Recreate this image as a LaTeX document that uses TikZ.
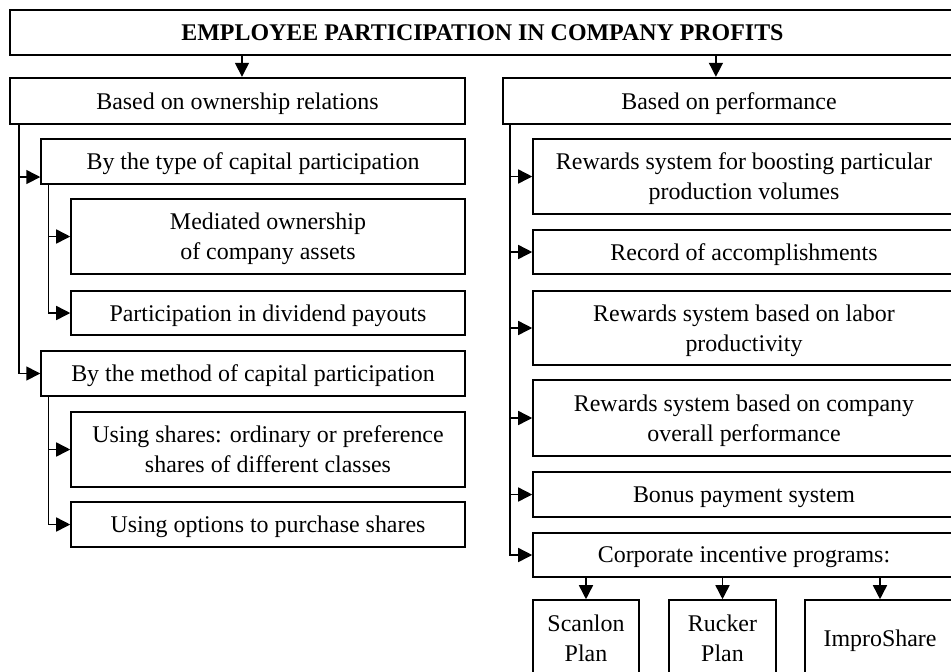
\documentclass[tikz,border=0pt]{standalone}
\usepackage{fontspec}
\setmainfont{Liberation Serif}
\usetikzlibrary{arrows.meta}
\begin{document}
\begin{tikzpicture}[x=0.535pt, y=-0.535pt, every node/.style={font=\fontsize{12.8}{16}\selectfont}]
        \tikzstyle{box} = [draw, line width=0.8pt, rectangle, align=center, inner sep=1pt, text depth=0pt, minimum height=24.1pt]
        \tikzstyle{bigbox} = [box, line width=1.3pt]
        \tikzstyle{arr} = [-{Triangle[length=7.5pt, width=7.5pt]}, line width=0.8pt]
        \useasboundingbox (0,0) rectangle (951,671);
        % top level
        \node[bigbox, minimum width=505.6pt, minimum height=24.1pt, font=\fontsize{12.8}{16}\selectfont\bfseries] (title) at (482.5, 32.5) {EMPLOYEE PARTICIPATION IN COMPANY PROFITS};
        \node[bigbox, minimum width=243.4pt, minimum height=24.6pt] (own) at (237.5, 101) {Based on ownership relations};
        \node[bigbox, minimum width=241.8pt, minimum height=24.6pt] (perf) at (729, 101) {Based on performance};
        % ownership branch
        \node[box, minimum width=226.8pt] (type) at (253, 161.5) {By the type of capital participation};
        \node[box, minimum width=210.8pt, minimum height=40.1pt] (mediated) at (268, 236.5) {Mediated ownership\\of company assets};
        \node[box, minimum width=210.8pt, minimum height=23.5pt] (dividend) at (268, 313) {Participation in dividend payouts};
        \node[box, minimum width=226.8pt] (method) at (253, 373.5) {By the method of capital participation};
        \node[box, minimum width=210.8pt, minimum height=40.1pt] (shares) at (268, 449.5) {Using shares: ordinary or preference\\shares of different classes};
        \node[box, minimum width=210.8pt] (options) at (268, 524.5) {Using options to purchase shares};
        % performance branch
        \node[box, minimum width=225.8pt, minimum height=40.1pt] (boost) at (744, 176.5) {Rewards system for boosting particular\\production volumes};
        \node[box, minimum width=225.8pt, minimum height=23.5pt] (record) at (744, 252) {Record of accomplishments};
        \node[box, minimum width=225.8pt, minimum height=39.6pt] (labor) at (744, 328) {Rewards system based on labor\\productivity};
        \node[box, minimum width=225.8pt, minimum height=40.7pt] (overall) at (744, 418) {Rewards system based on company\\overall performance};
        \node[box, minimum width=225.8pt] (bonus) at (744, 494.5) {Bonus payment system};
        \node[box, minimum width=225.8pt, minimum height=23.5pt] (corp) at (744, 555) {Corporate incentive programs:};
        \node[box, minimum width=56.7pt, minimum height=40.7pt] (scanlon) at (586, 638) {Scanlon\\Plan};
        \node[box, minimum width=57.2pt, minimum height=40.7pt] (rucker) at (722.5, 638) {Rucker\\Plan};
        \node[box, minimum width=80.3pt, minimum height=40.7pt] (impro) at (880, 638) {ImproShare};
        % connectors
        \draw[arr] ([xshift=2.4pt]own.north |- title.south) -- ([xshift=2.4pt]own.north);
        \draw[arr] ([xshift=-7pt]perf.north |- title.south) -- ([xshift=-7pt]perf.north);
        \draw[arr] ([xshift=5.4pt]own.south west) |- ([yshift=-8.3pt]type.west);
        \draw[arr] ([xshift=5.4pt]own.south west) |- (method.west);
        \draw[arr] ([xshift=4.3pt]type.south west) |- (mediated.west);
        \draw[arr] ([xshift=4.3pt]type.south west) |- (dividend.west);
        \draw[arr] ([xshift=4.3pt]method.south west) |- (shares.west);
        \draw[arr] ([xshift=4.3pt]method.south west) |- (options.west);
        \foreach \n in {boost, record, labor, overall, bonus, corp}
          \draw[arr] ([xshift=4.3pt]perf.south west) |- (\n.west);
        \foreach \n in {scanlon, rucker, impro}
          \draw[arr] (\n.north |- corp.south) -- (\n.north);
      \end{tikzpicture}
\end{document}
